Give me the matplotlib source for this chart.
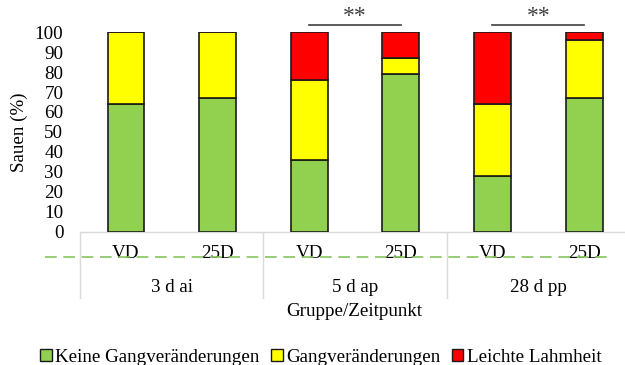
import numpy as np
from matplotlib import pyplot as plt
import matplotlib
matplotlib.use('Agg')
from matplotlib.lines import Line2D
from matplotlib.patches import Patch

# data
groups = ['3 d ai', '5 d ap', '28 d pp']
subgroups = ['VD', '25D', 'VD', '25D', 'VD', '25D']
keine = [64, 67, 36, 79, 28, 67]
gang = [36, 33, 40, 8, 36, 29]
lahm = [0, 0, 24, 13, 36, 4]
series_names = ['Keine Gangveränderungen', 'Gangveränderungen', 'Leichte Lahmheit']
sig_pairs = [(2, 3), (4, 5)]
sig_text = '**'

colors = ['#92D050', '#FFFF00', '#FF0000']
FS = 13.7

plt.rcParams['font.family'] = ['Liberation Serif', 'DejaVu Serif']
plt.rcParams['font.size'] = FS

W, H = 625, 365
fig = plt.figure(figsize=(W / 100, H / 100), dpi=100)
# axes from pixel 80..630 wide, 32..231.5 high
ax = fig.add_axes([80 / W, 1 - 231.5 / H, 550 / W, (231.5 - 32.3) / H])

x = np.arange(len(subgroups))
bottom = np.zeros(len(x))
for vals, c, name in zip([keine, gang, lahm], colors, series_names):
    vals = np.array(vals, dtype=float)
    ax.bar(x, vals, 0.4, bottom=bottom, color=c, edgecolor='#1a1a1a',
           linewidth=1.2, label=name, zorder=3)
    bottom += vals

ax.set_xlim(-0.5, len(x) - 0.5)
ax.set_ylim(0, 100)
ax.set_yticks(range(0, 101, 10))
ax.tick_params(axis='y', length=0, pad=12, labelsize=FS)
ax.set_xticks([])
for s in ['top', 'right', 'left']:
    ax.spines[s].set_visible(False)
ax.spines['bottom'].set_color('#d9d9d9')
ax.spines['bottom'].set_linewidth(1)
ax.set_ylabel('Sauen (%)', fontsize=FS)
ax.yaxis.set_label_coords(-(80 - 28) / 550, 0.5)

px = 1 / 199.2  # axes fraction per pixel vertically
trans = ax.get_xaxis_transform()

# category box lines
for xv in np.arange(-0.5, len(x), 2):
    ax.plot([xv, xv], [0, -(298 - 231.5) * px], color='#d9d9d9', lw=1,
            transform=trans, clip_on=False)

for i, lab in enumerate(subgroups):
    ax.text(i, -(253 - 231.5) * px, lab, transform=trans, ha='center',
            va='center', fontsize=FS)
for g, lab in enumerate(groups):
    ax.text(2 * g + 0.5, -(287 - 231.5) * px, lab, transform=trans,
            ha='center', va='center', fontsize=FS)
fig.text(354 / W, 1 - 312 / H, 'Gruppe/Zeitpunkt', ha='center', va='center',
         fontsize=FS)

# dashed green line across the labels
fig.add_artist(Line2D([45 / W, 613 / W], [1 - 256.7 / H, 1 - 256.7 / H],
                      color='#85C45E', lw=1.2, dashes=(7, 4)))

# significance brackets
for a, b in sig_pairs:
    ax.plot([a, b], [103.7, 103.7], color='#404040', lw=1.2, clip_on=False)
    ax.text((a + b) / 2, 102.5, sig_text, ha='center', va='bottom',
            fontsize=17, color='#404040')

handles = [Patch(facecolor=c, edgecolor='#1a1a1a', linewidth=1) for c in colors]
fig.legend(handles, series_names, loc='center', ncol=3, frameon=False,
           bbox_to_anchor=(321 / W, 1 - 357 / H), fontsize=FS,
           handlelength=0.6, handleheight=0.6, handletextpad=0.2,
           columnspacing=0.6, borderpad=0)

fig.savefig('out.png', dpi=100)
